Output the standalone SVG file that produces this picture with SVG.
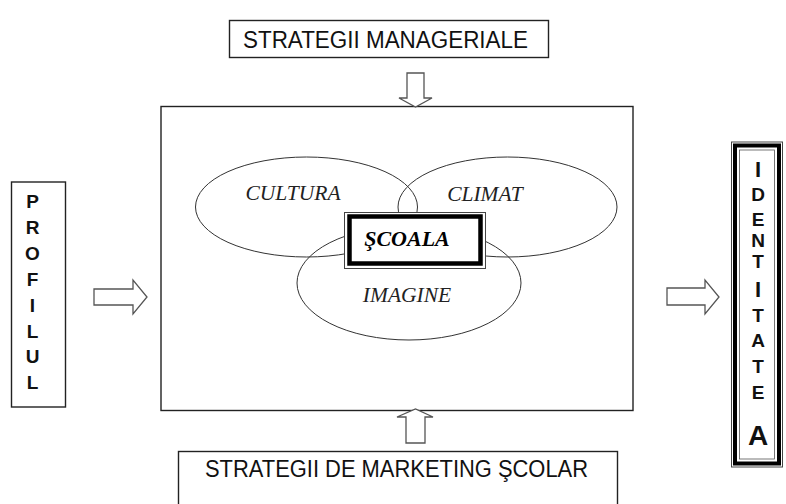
<svg xmlns="http://www.w3.org/2000/svg" width="786" height="504" viewBox="0 0 786 504">
<style>
.box{fill:#fff;stroke:#222;stroke-width:1.4}
.arr{fill:#fff;stroke:#555;stroke-width:1.3;stroke-linejoin:miter}
.ell{fill:none;stroke:#333;stroke-width:1}
.sans{font-family:"Liberation Sans",Arial,sans-serif;fill:#111}
.vert{font-family:"Liberation Sans",Arial,sans-serif;font-weight:bold;font-size:19px;fill:#111;text-anchor:middle}
.it{font-family:"Liberation Serif","Times New Roman",serif;font-style:italic;font-size:21.5px;fill:#222;text-anchor:middle}
</style>
<rect width="786" height="504" fill="#fff"/>
<g id="main">
<rect class="box" x="161" y="106.5" width="472" height="304"/>
</g>
<g id="cultura">
<ellipse class="ell" cx="306.5" cy="207" rx="111" ry="50"/>
<text class="it" x="293" y="200">CULTURA</text>
</g>
<g id="climat">
<ellipse class="ell" cx="507.5" cy="207" rx="109.5" ry="50"/>
<text class="it" x="485" y="201">CLIMAT</text>
</g>
<g id="imagine">
<ellipse class="ell" cx="409" cy="283" rx="112" ry="57"/>
<text class="it" x="407" y="302">IMAGINE</text>
</g>
<g id="scoala">
<rect x="344.5" y="212.5" width="141" height="56" fill="#fff" stroke="#444" stroke-width="1"/>
<rect x="349.5" y="216.5" width="131" height="47" fill="#fff" stroke="#000" stroke-width="4.5"/>
<text x="407" y="246" font-family="Liberation Serif,Times New Roman,serif" font-style="italic" font-weight="bold" font-size="22" fill="#000" text-anchor="middle">ŞCOALA</text>
</g>
<g id="manageriale">
<rect class="box" x="229.5" y="20.5" width="319" height="37"/>
<text class="sans" x="243" y="47.5" font-size="23" textLength="285" lengthAdjust="spacingAndGlyphs">STRATEGII MANAGERIALE</text>
</g>
<g id="marketing">
<rect class="box" x="178.5" y="451.5" width="439" height="60"/>
<text class="sans" x="205" y="477" font-size="23" textLength="383" lengthAdjust="spacingAndGlyphs">STRATEGII DE MARKETING ŞCOLAR</text>
</g>
<g id="profilul">
<rect class="box" x="11.5" y="182" width="54" height="225"/>
<text class="vert"><tspan x="32.5" y="208">P</tspan><tspan x="32.5" y="234">R</tspan><tspan x="32.5" y="260">O</tspan><tspan x="32.5" y="286">F</tspan><tspan x="32.5" y="312">I</tspan><tspan x="32.5" y="338">L</tspan><tspan x="32.5" y="363">U</tspan><tspan x="32.5" y="389">L</tspan></text>
</g>
<g id="identitatea">
<rect x="731.5" y="142" width="51" height="325" fill="#fff" stroke="#444" stroke-width="1"/>
<rect x="735" y="145.5" width="44" height="318" fill="none" stroke="#000" stroke-width="4"/>
<rect x="739.5" y="150" width="35" height="309" fill="none" stroke="#555" stroke-width="0.8"/>
<text class="vert"><tspan x="758" y="177" font-size="22">I</tspan><tspan x="758" y="201">D</tspan><tspan x="758" y="226">E</tspan><tspan x="758" y="247">N</tspan><tspan x="758" y="268">T</tspan><tspan x="758" y="297" font-size="22">I</tspan><tspan x="758" y="322">T</tspan><tspan x="758" y="347">A</tspan><tspan x="758" y="373">T</tspan><tspan x="758" y="399">E</tspan><tspan x="758" y="445" font-size="28">A</tspan></text>
</g>
<g id="connectors">
<polygon class="arr" points="407,73 424,73 424,98 432,98 415.5,107 399,98 407,98"/>
<polygon class="arr" points="406,443 425,443 425,417 433,417 415.5,409 397,417 406,417"/>
<polygon class="arr" points="94,289 133,289 133,280 147,297 133,314 133,305 94,305"/>
<polygon class="arr" points="667,288 705,288 705,280 719,297 705,314 705,305 667,305"/>
</g>
</svg>
